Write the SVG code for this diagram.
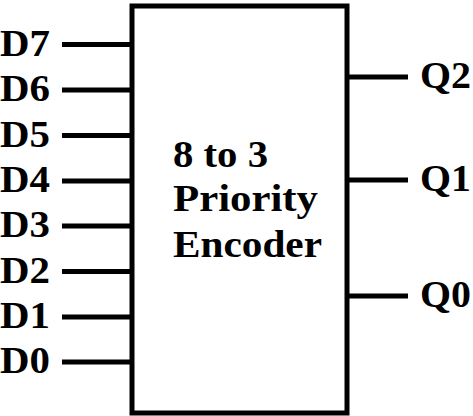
<svg xmlns="http://www.w3.org/2000/svg" width="473" height="416" viewBox="0 0 473 416">
<style>
.lbl{font-family:"Liberation Serif","Times New Roman",serif;font-weight:700;font-size:38px;fill:#000}
.ttl{font-family:"Liberation Serif","Times New Roman",serif;font-weight:700;font-size:38px;fill:#000}
.wire{stroke:#000;stroke-width:5;fill:none}
</style>
<rect width="473" height="416" fill="#fff"/>
<g id="encoder">
<rect x="132" y="6" width="215" height="407" fill="#fff" stroke="#000" stroke-width="5"/>
<text class="ttl" x="173" y="167" textLength="95" lengthAdjust="spacingAndGlyphs">8 to 3</text>
<text class="ttl" x="173" y="211" textLength="145" lengthAdjust="spacingAndGlyphs">Priority</text>
<text class="ttl" x="173" y="257" textLength="149" lengthAdjust="spacingAndGlyphs">Encoder</text>
</g>
<g id="connectors">
<line class="wire" x1="62" y1="44.5" x2="132" y2="44.5"/>
<line class="wire" x1="62" y1="90" x2="132" y2="90"/>
<line class="wire" x1="62" y1="135.5" x2="132" y2="135.5"/>
<line class="wire" x1="62" y1="181" x2="132" y2="181"/>
<line class="wire" x1="62" y1="226" x2="132" y2="226"/>
<line class="wire" x1="62" y1="271.5" x2="132" y2="271.5"/>
<line class="wire" x1="62" y1="317" x2="132" y2="317"/>
<line class="wire" x1="62" y1="362" x2="132" y2="362"/>
<line class="wire" x1="347" y1="77" x2="408" y2="77"/>
<line class="wire" x1="347" y1="180" x2="408" y2="180"/>
<line class="wire" x1="347" y1="296" x2="408" y2="296"/>
</g>
<g id="inputs">
<text class="lbl" x="0" y="55.5" textLength="50" lengthAdjust="spacingAndGlyphs">D7</text>
<text class="lbl" x="0" y="101" textLength="50" lengthAdjust="spacingAndGlyphs">D6</text>
<text class="lbl" x="0" y="146.5" textLength="50" lengthAdjust="spacingAndGlyphs">D5</text>
<text class="lbl" x="0" y="192" textLength="50" lengthAdjust="spacingAndGlyphs">D4</text>
<text class="lbl" x="0" y="237" textLength="50" lengthAdjust="spacingAndGlyphs">D3</text>
<text class="lbl" x="0" y="282.5" textLength="50" lengthAdjust="spacingAndGlyphs">D2</text>
<text class="lbl" x="0" y="328" textLength="50" lengthAdjust="spacingAndGlyphs">D1</text>
<text class="lbl" x="0" y="373" textLength="50" lengthAdjust="spacingAndGlyphs">D0</text>
</g>
<g id="outputs">
<text class="lbl" x="420" y="88" textLength="51" lengthAdjust="spacingAndGlyphs">Q2</text>
<text class="lbl" x="420" y="191" textLength="51" lengthAdjust="spacingAndGlyphs">Q1</text>
<text class="lbl" x="420" y="307" textLength="51" lengthAdjust="spacingAndGlyphs">Q0</text>
</g>
</svg>
